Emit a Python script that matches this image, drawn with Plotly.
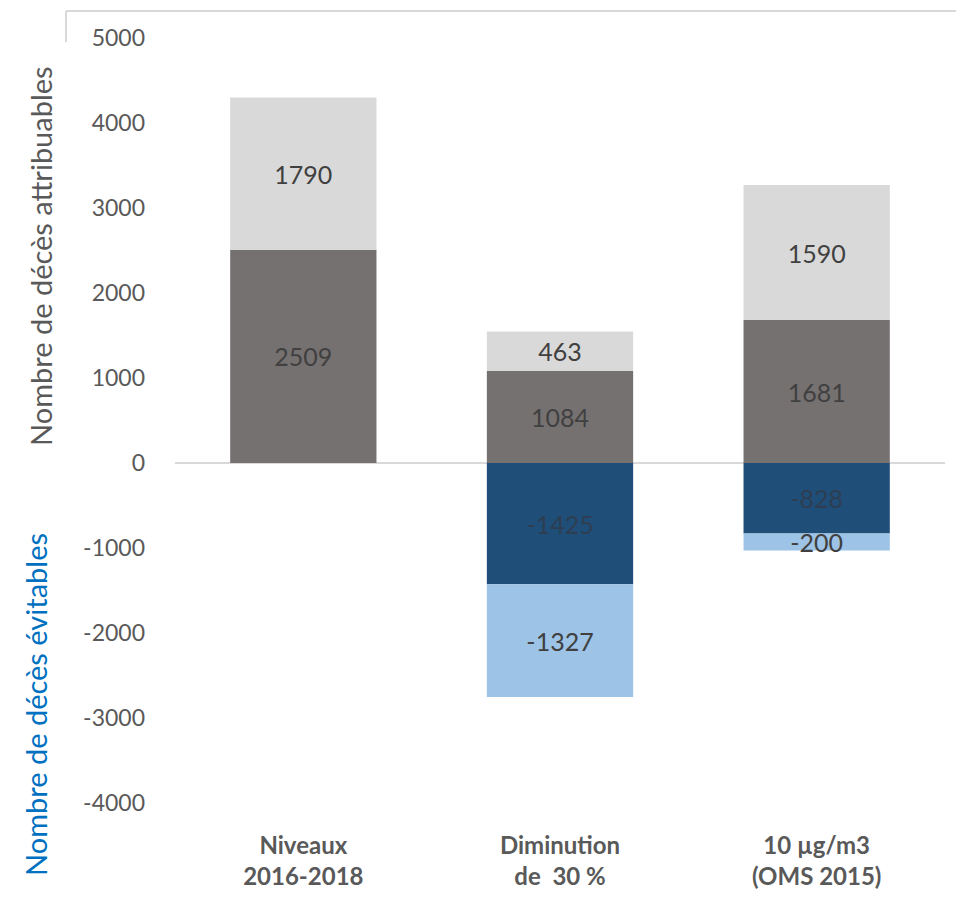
import plotly.graph_objects as go

categories = ["<b>Niveaux</b><br><b>2016-2018</b>", "<b>Diminution</b><br><b>de  30 %</b>", "<b>10 µg/m3</b><br><b>(OMS 2015)</b>"]
attrib_dark = [2509, 1084, 1681]
attrib_light = [1790, 463, 1590]
evit_dark = [None, -1425, -828]
evit_light = [None, -1327, -200]
y_ticks = [5000, 4000, 3000, 2000, 1000, 0, -1000, -2000, -3000, -4000]

FONT = "Lato, 'Open Sans', sans-serif"
TXT = "#404040"

W, H = 964, 904
OFF = 8  # page body offset
L, R, T, B = 175, 19, 38, 101  # desired plot area in page pixels
PW, PH = W - L - R, H - T - B

fig = go.Figure()

def add(vals, color, tcolor=TXT):
    fig.add_trace(go.Bar(
        x=categories, y=vals, marker=dict(color=color, line=dict(width=0)),
        text=[("" if v is None else str(v)) for v in vals],
        textposition="inside", insidetextanchor="middle", textangle=0,
        textfont=dict(family=FONT, size=25, color=tcolor),
        constraintext="none", width=0.57, hoverinfo="skip",
    ))

add(attrib_dark, "#767171")
add(attrib_light, "#D9D9D9")
add(evit_dark, "#1F4E79", "#2E3E52")
add(evit_light, "#9DC3E6")

def px2x(px):
    return (px - L) / PW

def py2y(py):
    return (H - B - py) / PH

fig.add_shape(type="line", xref="paper", yref="paper", x0=px2x(66), x1=px2x(975), y0=py2y(11), y1=py2y(11),
              line=dict(color="#D9D9D9", width=2))
fig.add_shape(type="line", xref="paper", yref="paper", x0=px2x(66), x1=px2x(66), y0=py2y(11), y1=py2y(42),
              line=dict(color="#D9D9D9", width=2))

fig.add_annotation(text="Nombre de décès attribuables", xref="paper", yref="paper",
                   x=px2x(40), y=py2y(256), textangle=-90, showarrow=False,
                   xanchor="center", yanchor="middle",
                   font=dict(family=FONT, size=29, color="#595959"))
fig.add_annotation(text="Nombre de décès évitables", xref="paper", yref="paper",
                   x=px2x(35), y=py2y(705), textangle=-90, showarrow=False,
                   xanchor="center", yanchor="middle",
                   font=dict(family=FONT, size=29, color="#0070C0"))

fig.update_layout(
    width=W, height=H,
    margin=dict(l=L - OFF, r=R + OFF, t=T - OFF, b=B + OFF),
    barmode="relative",
    showlegend=False,
    plot_bgcolor="white", paper_bgcolor="white",
    uniformtext=dict(minsize=22, mode="show"),
    font=dict(family=FONT, color="#595959"),
)
fig.update_xaxes(showline=False, showgrid=False, zeroline=False, ticks="",
                 tickfont=dict(family=FONT, size=24, color="#595959"),
                 ticklabelstandoff=26)
fig.update_yaxes(range=[-4000, 5000], tickvals=y_ticks, ticktext=[str(v) for v in y_ticks],
                 showgrid=False, showline=False, zeroline=True, zerolinecolor="#D9D9D9", zerolinewidth=2,
                 tickfont=dict(family=FONT, size=23, color="#595959"), ticklabelstandoff=29)

fig.write_html("out.html")
